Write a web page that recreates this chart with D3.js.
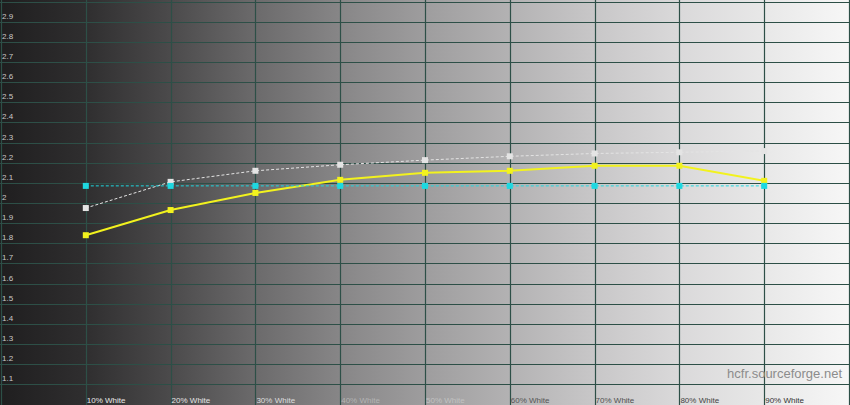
<!DOCTYPE html>
<html><head><meta charset="utf-8">
<script src="https://cdn.jsdelivr.net/npm/d3@7"></script>
<style>html,body{margin:0;padding:0;background:#fff;}svg{display:block;}</style>
</head><body>
<svg id="chart" width="850" height="405"></svg>
<script>
const levels = [10, 20, 30, 40, 50, 60, 70, 80, 90];
const levelLabels = ["10% White","20% White","30% White","40% White","50% White","60% White","70% White","80% White","90% White"];
const labelColors = ["#e8e8e8","#e4e4e4","#dddddd","#b4b4b4","#c2c2c2","#555555","#505050","#444444","#333333"];
const gammaMeasured = [1.84, 1.965, 2.05, 2.115, 2.15, 2.16, 2.185, 2.185, 2.11];
const gammaReference = [1.975, 2.105, 2.16, 2.19, 2.213, 2.232, 2.246, 2.252, 2.258];
const gammaTarget = [2.085, 2.085, 2.085, 2.085, 2.085, 2.085, 2.085, 2.085, 2.085];
const yTicks = [1.1,1.2,1.3,1.4,1.5,1.6,1.7,1.8,1.9,2,2.1,2.2,2.3,2.4,2.5,2.6,2.7,2.8,2.9];

const W = 850, H = 405;
const svg = d3.select("#chart");
const x = d3.scaleLinear().domain([0, 100]).range([1, 849]);
const y = d3.scaleLinear().domain([1, 3]).range([404.3, 1.7]);

// background gradient
const defs = svg.append("defs");
const grad = defs.append("linearGradient").attr("id","bg").attr("x1","0").attr("x2","1").attr("y1","0").attr("y2","0");
const stops = [[0,"#1f1e1f"],[0.1,"#2f2e2f"],[0.2,"#4b4a4b"],[0.3,"#6b6a6b"],[0.4,"#878687"],[0.5,"#9e9d9e"],[0.6,"#b3b2b3"],[0.7,"#c8c7c8"],[0.8,"#dad9da"],[0.9,"#e8e8e8"],[1,"#f7f7f7"]];
stops.forEach(s => grad.append("stop").attr("offset", s[0]).attr("stop-color", s[1]));
svg.append("rect").attr("width", W).attr("height", H).attr("fill", "url(#bg)");

const gridColor = "#2d4f47";
// horizontal grid
svg.append("g").selectAll("line").data(yTicks.concat([3])).join("line")
  .attr("x1", 0).attr("x2", W)
  .attr("y1", d => Math.round(y(d)) + 0.5).attr("y2", d => Math.round(y(d)) + 0.5)
  .attr("stroke", gridColor).attr("stroke-width", 1.2);
// vertical grid
svg.append("g").selectAll("line").data(d3.range(0, 101, 10)).join("line")
  .attr("x1", d => Math.round(x(d)) + 0.5).attr("x2", d => Math.round(x(d)) + 0.5)
  .attr("y1", 0).attr("y2", H)
  .attr("stroke", gridColor).attr("stroke-width", 1.2);

// y labels
svg.append("g").selectAll("text").data(yTicks).join("text")
  .attr("x", 2).attr("y", d => y(d) - 3)
  .attr("font-family", "Liberation Sans, Arial, sans-serif").attr("font-size", 8)
  .attr("fill", "#c8c8c8")
  .text(d => d === 2 ? "2" : d3.format(".1f")(d));

// x labels
svg.append("g").selectAll("text").data(levels).join("text")
  .attr("x", d => x(d) + 1).attr("y", 403)
  .attr("font-family", "Liberation Sans, Arial, sans-serif").attr("font-size", 8)
  .attr("fill", (d, i) => labelColors[i])
  .text((d, i) => levelLabels[i]);

// watermark
svg.append("text").attr("x", 842).attr("y", 378).attr("text-anchor", "end")
  .attr("font-family", "Liberation Sans, Arial, sans-serif").attr("font-size", 13)
  .attr("fill", "#8c8c8c").text("hcfr.sourceforge.net");

function drawSeries(vals, color, width, dash, msize) {
  const pts = levels.map((l, i) => [x(l), y(vals[i])]);
  svg.append("path").attr("d", d3.line()(pts))
    .attr("fill", "none").attr("stroke", color).attr("stroke-width", width)
    .attr("stroke-dasharray", dash);
  svg.append("g").selectAll("rect").data(pts).join("rect")
    .attr("x", d => d[0] - msize / 2).attr("y", d => d[1] - msize / 2)
    .attr("width", msize).attr("height", msize).attr("fill", color);
}
drawSeries(gammaMeasured, "#f2f21e", 2, null, 6);
drawSeries(gammaReference, "#e4e4e4", 1, "3,2", 6);
drawSeries(gammaTarget, "#1ed8e0", 1, "3,2", 6);
</script>
</body></html>
